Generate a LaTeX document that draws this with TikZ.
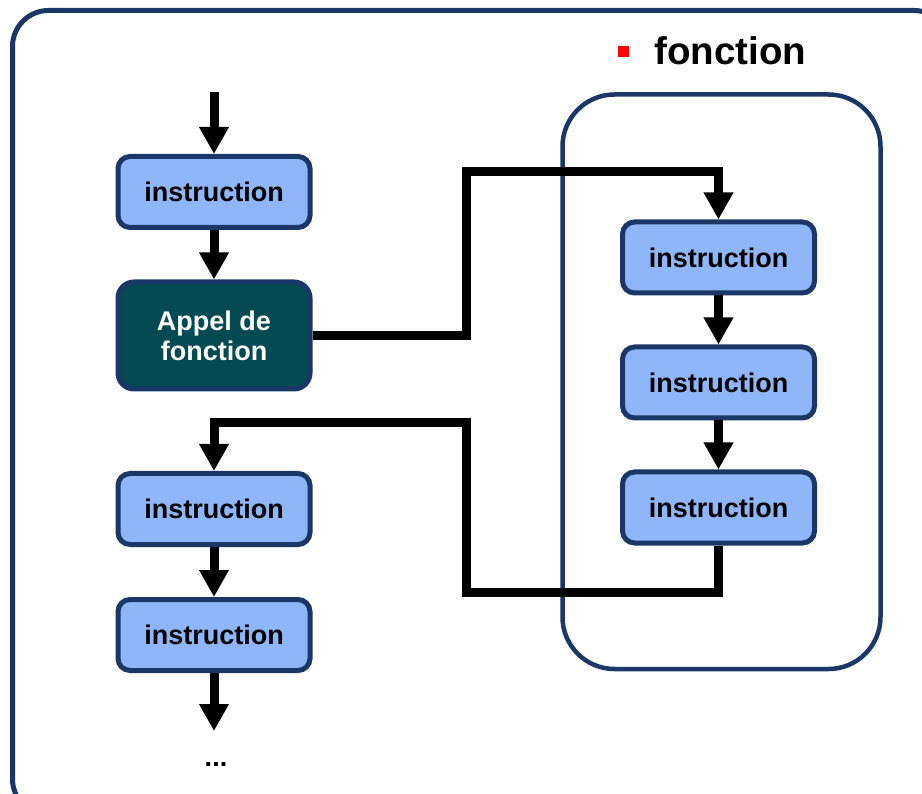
\documentclass[tikz,border=0pt]{standalone}
\usepackage{fontspec}
\setmainfont{Liberation Sans}
\usetikzlibrary{arrows.meta}
\definecolor{navyb}{HTML}{1A3767}
\definecolor{lightb}{HTML}{8FB6F9}
\definecolor{tealc}{HTML}{034A52}
\tikzset{
  instr/.style={draw=navyb, line width=5pt, fill=lightb, rounded corners=12pt,
    minimum width=192pt, minimum height=71pt, inner sep=0pt,
    font=\bfseries\fontsize{27}{30}\selectfont},
  callbox/.style={instr, fill=tealc, text=white, minimum height=107pt, align=center,
    rounded corners=16pt},
  flow/.style={line width=9pt, black, -{Triangle[width=28pt,length=27pt]}},
  flowline/.style={line width=9pt, black},
}
\begin{document}
\begin{tikzpicture}[x=1pt,y=-1pt]
\useasboundingbox (0,0) rectangle (922,794);
\begin{scope}
\clip (0,0) rectangle (922,794);
\draw[navyb, line width=5pt, rounded corners=36pt] (12.5,10.5) rectangle (950,815);
\end{scope}
% fonction frame
\draw[navyb, line width=4.5pt, rounded corners=52pt] (562.5,94.5) rectangle (880.5,669);
\fill[red] (618,46) rectangle (629,57);
\node[anchor=base west, inner sep=0pt, font=\bfseries\fontsize{38.5}{40}\selectfont] (ftitle) at (654,65) {fonction};
% left column
\coordinate (top) at (214,92);
\node[instr] (l1) at (214,192) {instruction};
\node[callbox] (call) at (214,335.5) {Appel de\\fonction};
\node[instr] (l3) at (214,509) {instruction};
\node[instr] (l4) at (214,635) {instruction};
\coordinate (bot) at (214,731);
\node[font=\bfseries\fontsize{27}{30}\selectfont, inner sep=0pt] (dots) at (216,764) {...};
% right column
\node[instr] (r1) at (718.5,257.5) {instruction};
\node[instr] (r2) at (718.5,382.5) {instruction};
\node[instr] (r3) at (718.5,507.5) {instruction};
% helper coordinates
\coordinate (cA) at (466,172);
\coordinate (cB) at (466,592);
\coordinate (cC) at (466,423);
% connectors
\draw[flow] (top) -- (l1.north);
\draw[flow] (l1.south) -- (call.north);
\draw[flow] (call.east) -| (cA) -| (r1.north);
\draw[flow] (r1.south) -- (r2.north);
\draw[flow] (r2.south) -- (r3.north);
\draw[flow] (r3.south) |- (cB) -- (cC) -| (l3.north);
\draw[flow] (l3.south) -- (l4.north);
\draw[flow] (l4.south) -- (bot);
\end{tikzpicture}
\end{document}
